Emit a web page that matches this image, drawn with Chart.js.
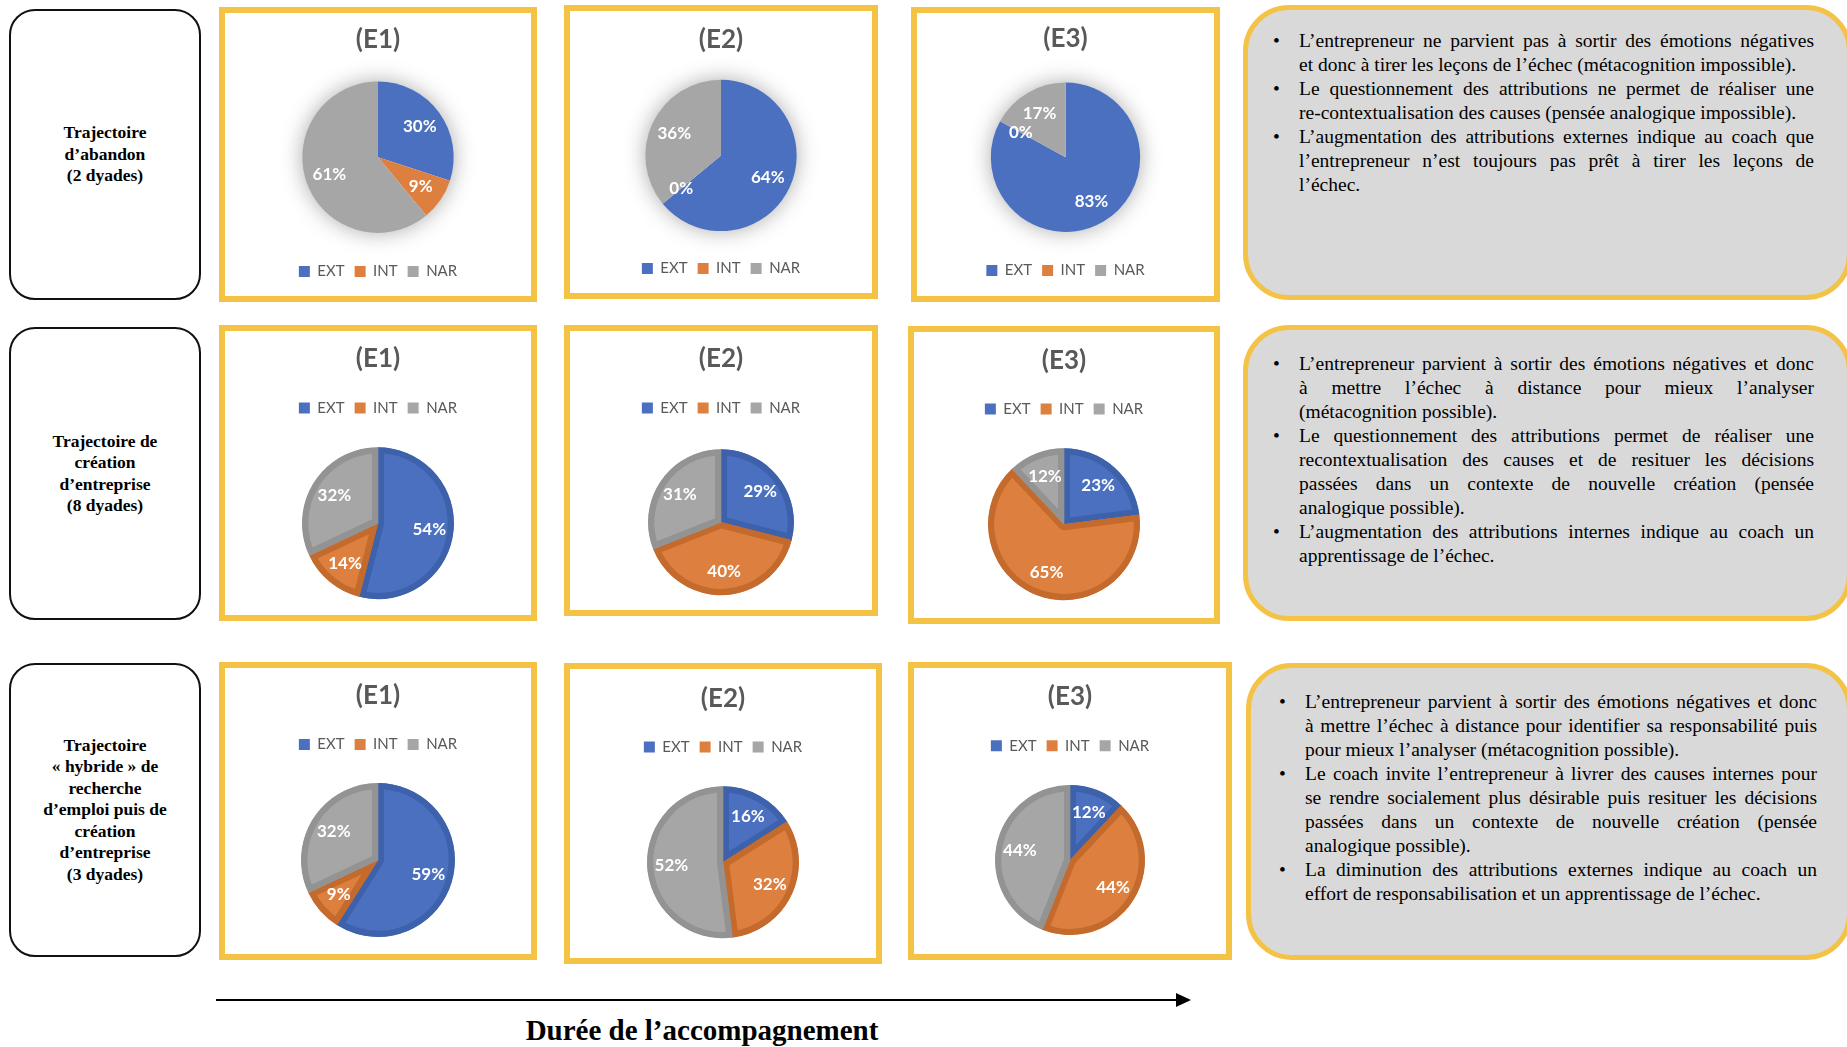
<!DOCTYPE html>
<html lang="fr">
<head>
<meta charset="utf-8">
<title>Trajectoires et attributions causales</title>
<script src="https://cdn.jsdelivr.net/npm/chart.js@4.4.1/dist/chart.umd.min.js"></script>
<style>
  body { margin: 0; width: 1847px; height: 1047px; position: relative; overflow: hidden; background: #fff; font-family: 'Liberation Serif', 'Times New Roman', serif; }
  .traj { position: absolute; left: 9px; width: 192px; box-sizing: border-box; border: 2px solid #111; border-radius: 26px;
          display: flex; align-items: center; justify-content: center; text-align: center;
          font-weight: bold; font-size: 17.5px; line-height: 21.4px; color: #000; }
  .frame { position: absolute; box-sizing: border-box; border: 6px solid #F4C244; }
  canvas.pie { position: absolute; }
  .note { position: absolute; box-sizing: border-box; background: #D9D9D9; border: 5px solid #F4C244; border-radius: 46px; }
  ul.points { position: absolute; margin: 0; padding: 0; list-style: none; font-size: 19.5px; line-height: 24px; color: #000; }
  ul.points li { position: relative; padding-left: 26px; }
  ul.points li::before { content: '•'; position: absolute; left: 0; }
  ul.points span { display: block; white-space: nowrap; }
  ul.points span.j { text-align: justify; text-align-last: justify; }
  #axis { position: absolute; left: 0; top: 0; }
  #axisTitle { position: absolute; left: 402px; width: 600px; top: 1012px; text-align: center; font-weight: bold; font-size: 29px; line-height: 36px; }
</style>
</head>
<body>

<div class="traj" style="top:9px;height:291px;">Trajectoire<br>d’abandon<br>(2 dyades)</div>
<div class="traj" style="top:327px;height:293px;">Trajectoire de<br>création<br>d’entreprise<br>(8 dyades)</div>
<div class="traj" style="top:663px;height:294px;">Trajectoire<br>« hybride » de<br>recherche<br>d’emploi puis de<br>création<br>d’entreprise<br>(3 dyades)</div>

<div class="note" style="left:1243px;top:5px;width:609px;height:295px;"></div>
<ul class="points" style="left:1273px;top:29px;width:541px;">
  <li><span class="j">L’entrepreneur ne parvient pas à sortir des émotions négatives</span><span>et donc à tirer les leçons de l’échec (métacognition impossible).</span></li>
  <li><span class="j">Le questionnement des attributions ne permet de réaliser une</span><span>re-contextualisation des causes (pensée analogique impossible).</span></li>
  <li><span class="j">L’augmentation des attributions externes indique au coach que</span><span class="j">l’entrepreneur n’est toujours pas prêt à tirer les leçons de</span><span>l’échec.</span></li>
</ul>

<div class="note" style="left:1243px;top:325px;width:609px;height:296px;"></div>
<ul class="points" style="left:1273px;top:352px;width:541px;">
  <li><span class="j">L’entrepreneur parvient à sortir des émotions négatives et donc</span><span class="j">à mettre l’échec à distance pour mieux l’analyser</span><span>(métacognition possible).</span></li>
  <li><span class="j">Le questionnement des attributions permet de réaliser une</span><span class="j">recontextualisation des causes et de resituer les décisions</span><span class="j">passées dans un contexte de nouvelle création (pensée</span><span>analogique possible).</span></li>
  <li><span class="j">L’augmentation des attributions internes indique au coach un</span><span>apprentissage de l’échec.</span></li>
</ul>

<div class="note" style="left:1246px;top:663px;width:606px;height:297px;"></div>
<ul class="points" style="left:1279px;top:690px;width:538px;">
  <li><span class="j">L’entrepreneur parvient à sortir des émotions négatives et donc</span><span class="j">à mettre l’échec à distance pour identifier sa responsabilité puis</span><span>pour mieux l’analyser (métacognition possible).</span></li>
  <li><span class="j">Le coach invite l’entrepreneur à livrer des causes internes pour</span><span class="j">se rendre socialement plus désirable puis resituer les décisions</span><span class="j">passées dans un contexte de nouvelle création (pensée</span><span>analogique possible).</span></li>
  <li><span class="j">La diminution des attributions externes indique au coach un</span><span>effort de responsabilisation et un apprentissage de l’échec.</span></li>
</ul>

<svg id="axis" width="1847" height="1047">
  <line x1="216" y1="1000" x2="1178" y2="1000" stroke="#000" stroke-width="2"/>
  <polygon points="1176,993 1191,1000 1176,1007" fill="#000"/>
</svg>
<div id="axisTitle">Durée de l’accompagnement</div>

<script>
// attribution categories and interview stages
const categories = ['EXT', 'INT', 'NAR'];
const stages = ['(E1)', '(E2)', '(E3)'];

// share of attributions (%) per interview, in order EXT, INT, NAR
const abandonE1 = [30, 9, 61];
const abandonE2 = [64, 0, 36];
const abandonE3 = [83, 0, 17];

const creationE1 = [54, 14, 32];
const creationE2 = [29, 40, 31];
const creationE3 = [23, 65, 12];

const hybrideE1 = [59, 9, 32];
const hybrideE2 = [16, 32, 52];
const hybrideE3 = [12, 44, 44];

const rows = [
  [abandonE1, abandonE2, abandonE3],
  [creationE1, creationE2, creationE3],
  [hybrideE1, hybrideE2, hybrideE3]
];

const sliceColors = ['#4A70BF', '#DD803F', '#A6A6A6'];
const sliceEdges = ['#3E61AB', '#C36A2C', '#939393'];

// frame boxes and where title, legend and pie centre sit inside them
const frames = [
  [{x: 219, y: 7, w: 318, h: 295, title: 40, legend: 271, pie: 157, r: 76},
   {x: 564, y: 5, w: 314, h: 294, title: 40, legend: 268.6, pie: 155.5, r: 76},
   {x: 911, y: 7, w: 309, h: 295, title: 39, legend: 270, pie: 157, r: 75}],
  [{x: 219, y: 325, w: 318, h: 296, title: 359, legend: 408, pie: 523, r: 76},
   {x: 564, y: 325, w: 314, h: 291, title: 359, legend: 408, pie: 522, r: 73},
   {x: 908, y: 326, w: 312, h: 298, title: 360.5, legend: 409, pie: 524, r: 76}],
  [{x: 219, y: 662, w: 318, h: 298, title: 696, legend: 744.5, pie: 860, r: 77},
   {x: 564, y: 663, w: 318, h: 301, title: 698.5, legend: 747, pie: 862, r: 76},
   {x: 908, y: 662, w: 324, h: 298, title: 697, legend: 745.7, pie: 860, r: 75}]
];

const BORDER = 6;
const TITLE_SIZE = 26;
const LEGEND_SIZE = 15;
const LEGEND_PAD = 10;

// soft halo behind the flat pies of the first row
const pieShadow = {
  id: 'pieShadow',
  beforeDatasetsDraw(chart, args, opts) {
    if (!opts.enabled) return;
    const arc = chart.getDatasetMeta(0).data[0];
    if (!arc) return;
    const ctx = chart.ctx;
    ctx.save();
    ctx.shadowColor = 'rgba(0,0,0,0.35)';
    ctx.shadowBlur = 22;
    ctx.fillStyle = '#fff';
    ctx.beginPath();
    ctx.arc(arc.x, arc.y, arc.outerRadius - 1, 0, Math.PI * 2);
    ctx.fill();
    ctx.restore();
  }
};

// percentage written inside each slice
const sliceLabels = {
  id: 'sliceLabels',
  afterDatasetsDraw(chart) {
    const ctx = chart.ctx;
    const meta = chart.getDatasetMeta(0);
    const values = chart.data.datasets[0].data;
    ctx.save();
    ctx.font = 'bold 17px Lato';
    ctx.fillStyle = '#fff';
    ctx.textAlign = 'center';
    ctx.textBaseline = 'middle';
    meta.data.forEach((arc, i) => {
      const mid = (arc.startAngle + arc.endAngle) / 2;
      const r = arc.outerRadius * 0.68;
      ctx.fillText(values[i] + '%', arc.x + Math.cos(mid) * r, arc.y + Math.sin(mid) * r);
    });
    ctx.restore();
  }
};

Chart.register(pieShadow, sliceLabels);

function drawPie(row, col) {
  const f = frames[row][col];
  const values = rows[row][col];
  const legendBelow = row === 0;

  const frame = document.createElement('div');
  frame.className = 'frame';
  frame.style.left = f.x + 'px';
  frame.style.top = f.y + 'px';
  frame.style.width = f.w + 'px';
  frame.style.height = f.h + 'px';
  document.body.appendChild(frame);

  // work out title/legend padding so the pie lands on its centre line
  const top = f.y + BORDER;
  const halfTitle = TITLE_SIZE * 1.2 / 2;
  const legendH = LEGEND_SIZE + LEGEND_PAD + 10;
  const legendTop = f.legend - (LEGEND_PAD + LEGEND_SIZE / 2);
  let titleBottom, height;
  if (legendBelow) {
    const chartTop = 2 * f.pie - legendTop;
    titleBottom = chartTop - (f.title + halfTitle);
    height = legendTop + legendH - top;
  } else {
    const chartTop = legendTop + legendH;
    titleBottom = legendTop - (f.title + halfTitle);
    height = 2 * f.pie - chartTop - top;
  }

  const canvas = document.createElement('canvas');
  canvas.className = 'pie';
  canvas.width = f.w - 2 * BORDER;
  canvas.height = Math.round(height);
  canvas.style.left = (f.x + BORDER) + 'px';
  canvas.style.top = top + 'px';
  document.body.appendChild(canvas);

  new Chart(canvas, {
    type: 'pie',
    data: {
      labels: categories,
      datasets: [{
        data: values,
        backgroundColor: sliceColors,
        borderColor: legendBelow ? '#fff' : sliceEdges,
        borderWidth: legendBelow ? 0 : 6,
        borderAlign: 'inner'
      }]
    },
    options: {
      responsive: false,
      animation: false,
      events: [],
      radius: f.r,
      layout: { padding: 0 },
      plugins: {
        title: {
          display: true,
          text: stages[col],
          color: '#595959',
          font: { family: 'Lato', size: TITLE_SIZE, weight: 'bold' },
          padding: { top: f.title - top - halfTitle, bottom: titleBottom }
        },
        legend: {
          position: legendBelow ? 'bottom' : 'top',
          labels: {
            boxWidth: 11,
            boxHeight: 11,
            padding: LEGEND_PAD,
            color: '#595959',
            font: { family: 'Lato', size: LEGEND_SIZE },
            generateLabels: function(chart) {
              const items = Chart.overrides.pie.plugins.legend.labels.generateLabels(chart);
              return items.map(item => Object.assign(item, { lineWidth: 0 }));
            }
          }
        },
        tooltip: { enabled: false },
        pieShadow: { enabled: legendBelow }
      }
    }
  });
}

for (let row = 0; row < 3; row++) {
  for (let col = 0; col < 3; col++) {
    drawPie(row, col);
  }
}
</script>
</body>
</html>
